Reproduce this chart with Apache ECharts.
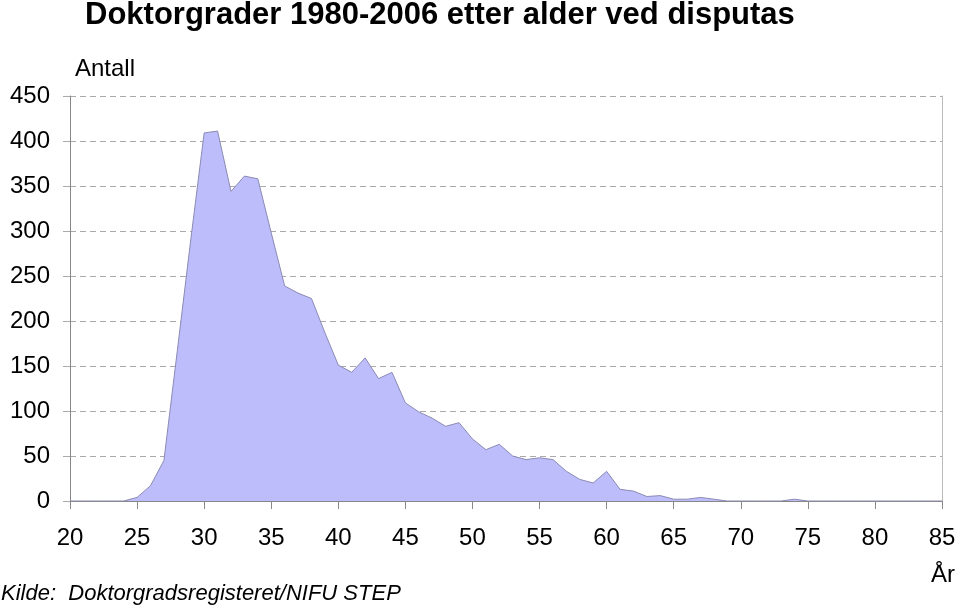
<!DOCTYPE html>
<html>
<head>
<meta charset="utf-8">
<script src="https://cdn.jsdelivr.net/npm/echarts@6/dist/echarts.min.js"></script>
<style>html,body{margin:0;padding:0;background:#fff}#c{width:960px;height:608px}</style>
</head>
<body>
<div id="c"></div>
<script>
var ages = [20,21,22,23,24,25,26,27,28,29,30,31,32,33,34,35,36,37,38,39,40,41,42,43,44,45,46,47,48,49,50,51,52,53,54,55,56,57,58,59,60,61,62,63,64,65,66,67,68,69,70,71,72,73,74,75,76,77,78,79,80,81,82,83,84,85];
var counts = [0,0,0,0,0,4,17,45,167,290,409,411,344,361,358,298,239,231,225,187,151,143,159,136,143,109,99,92,83,87,69,57,63,50,46,48,46,33,24,20,33,13,11,5,6,2,2,4,2,0,0,0,0,0,2,0,0,0,0,0,0,0,0,0,0,0];
var xTicks = {min: 20, max: 85, interval: 5};
var yTicks = {min: 0, max: 450, interval: 50};
var titleText = 'Doktorgrader 1980-2006 etter alder ved disputas';
var yName = 'Antall';
var xName = 'År';
var sourceText = 'Kilde:  Doktorgradsregisteret/NIFU STEP';

var pairs = ages.map(function (a, i) { return [a, counts[i]]; });
var font = 'Liberation Sans, Arial, sans-serif';
var chart = echarts.init(document.getElementById('c'));
chart.setOption({
  animation: false,
  backgroundColor: '#fff',
  title: {
    text: titleText, left: 85, top: 0, padding: 0,
    textStyle: {fontFamily: font, fontSize: 31, fontWeight: 'bold', color: '#000'}
  },
  grid: {left: 70, right: 18, top: 96, bottom: 107},
  xAxis: {
    type: 'value', min: xTicks.min, max: xTicks.max, interval: xTicks.interval,
    axisLine: {show: true, lineStyle: {color: '#888', width: 1}},
    axisTick: {show: true, length: 8, lineStyle: {color: '#888'}},
    axisLabel: {margin: 25, fontFamily: font, fontSize: 24, color: '#000'},
    splitLine: {show: false}
  },
  yAxis: [{
    type: 'value', min: yTicks.min, max: yTicks.max, interval: yTicks.interval,
    axisLine: {show: true, lineStyle: {color: '#888', width: 1}},
    axisTick: {show: true, length: 7, lineStyle: {color: '#aaa'}},
    axisLabel: {margin: 20, fontFamily: font, fontSize: 24, color: '#000'},
    splitLine: {show: true, lineStyle: {color: '#aaa', type: [6, 4], width: 1}}
  }, {
    type: 'value', position: 'right', min: yTicks.min, max: yTicks.max, interval: yTicks.interval,
    axisLine: {show: true, lineStyle: {color: '#bbb', width: 1}},
    axisTick: {show: false}, axisLabel: {show: false}, splitLine: {show: false}
  }],
  series: [{
    type: 'line', data: pairs, symbol: 'none', smooth: false,
    lineStyle: {color: '#8a8ab4', width: 1},
    areaStyle: {color: '#bdbdfc', opacity: 1}
  }],
  graphic: [
    {type: 'text', left: 75, top: 57, style: {text: yName, font: '24px ' + font, fill: '#000'}},
    {type: 'text', left: 931, top: 563, style: {text: xName, font: '24px ' + font, fill: '#000'}},
    {type: 'text', left: 1, top: 583, style: {text: sourceText, font: 'italic 22px ' + font, fill: '#000'}}
  ]
});
</script>
</body>
</html>
